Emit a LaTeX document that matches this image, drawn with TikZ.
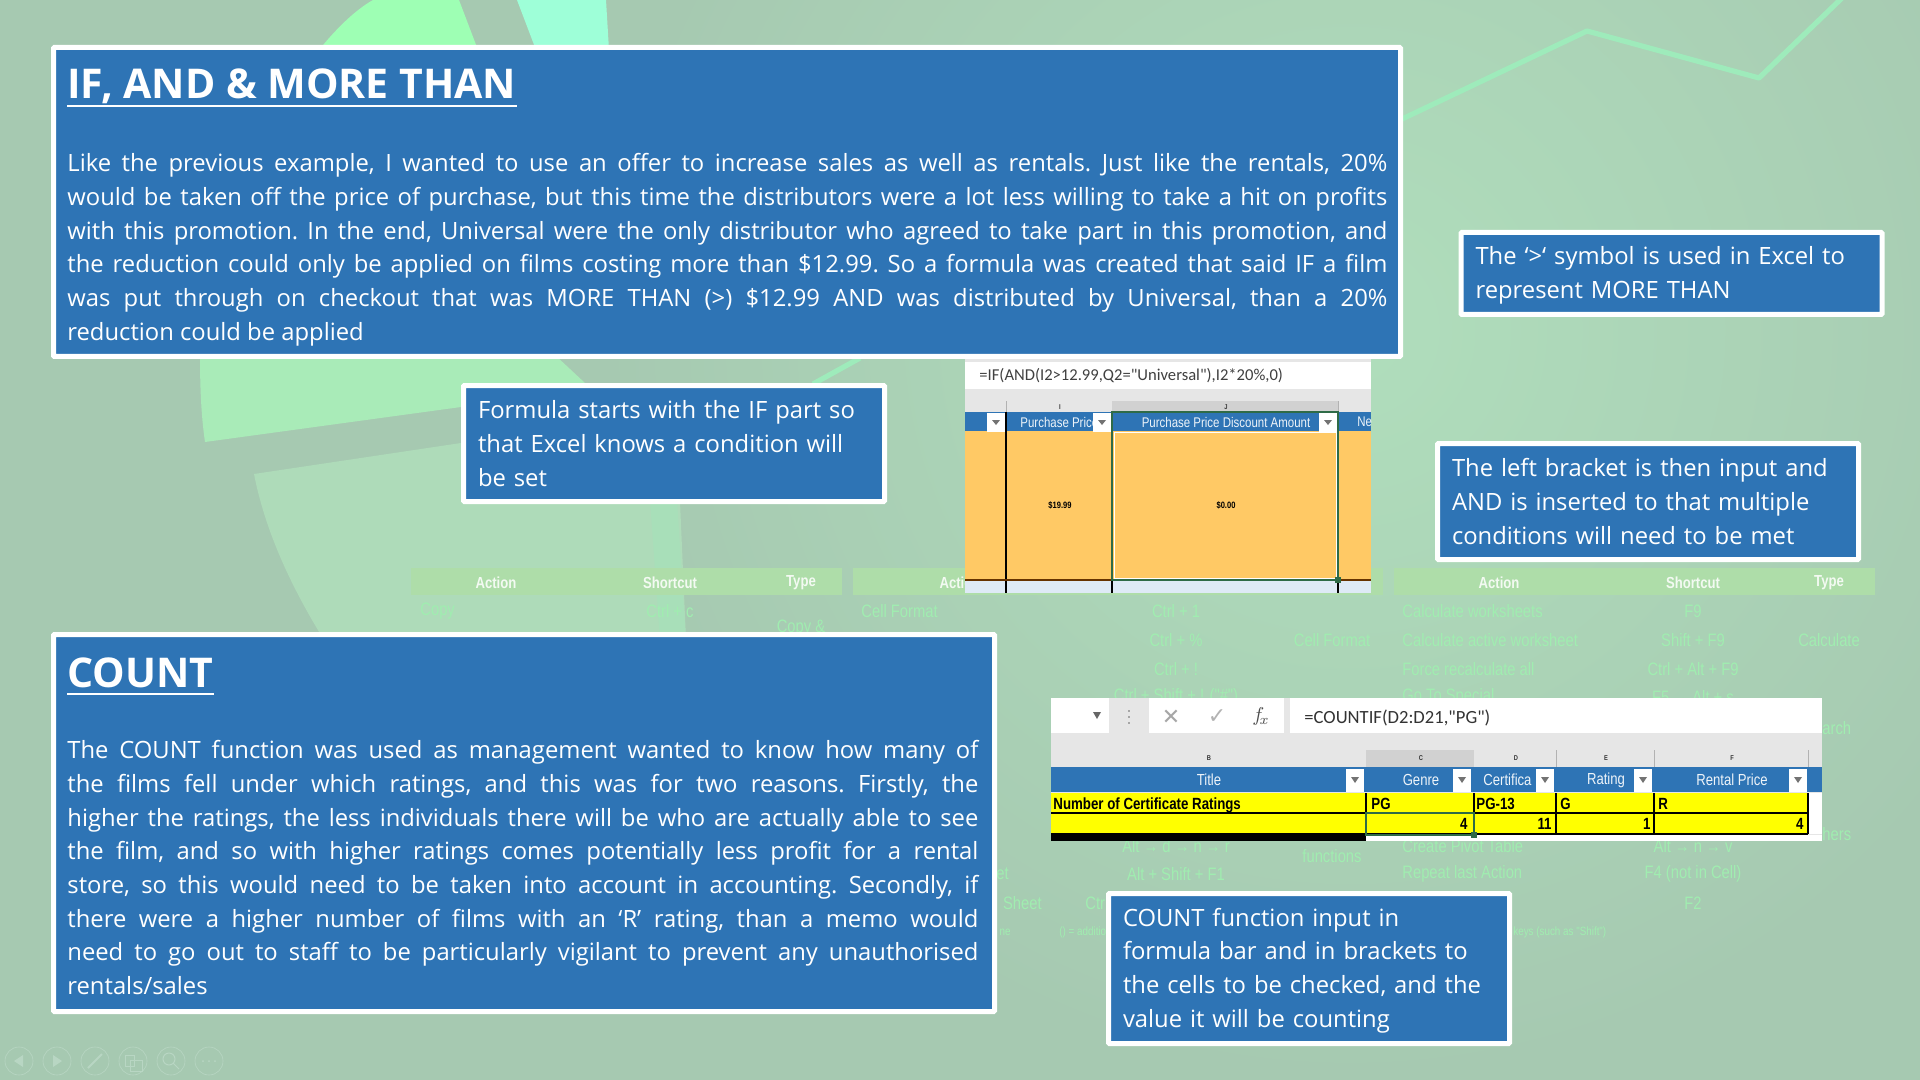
\documentclass[tikz,border=0pt]{standalone}
\usepackage{fontspec}
\setmainfont{Open Sans}
\newfontfamily\cellfont[FakeStretch=0.82]{Liberation Sans}
\newfontfamily\barfont{Carlito}
\newfontfamily\symbolfont{DejaVu Sans}
\definecolor{bgmid}{HTML}{B0DEBC}
\definecolor{bgedge}{HTML}{A6C9B1}
\definecolor{boxblue}{HTML}{2E74B5}
\definecolor{wedgegreen}{HTML}{A9EBB8}
\definecolor{wedgepale}{HTML}{AEDBB9}
\definecolor{stripgreen}{HTML}{A8DFB9}
\definecolor{topgreen}{HTML}{9EFFB4}
\definecolor{topmint}{HTML}{9EFFD8}
\definecolor{linegreen}{HTML}{9EEBBB}
\definecolor{bandgreen}{HTML}{AEDDA9}
\definecolor{faintgreen}{HTML}{A0EDB0}
\definecolor{navgrey}{HTML}{B8D6C3}
\definecolor{cellorange}{HTML}{FFC965}
\definecolor{cellyellow}{HTML}{FFFF00}
\definecolor{cellgreen}{HTML}{2F6B47}
\definecolor{celllight}{HTML}{DEEAF6}
\definecolor{barbg}{HTML}{E6E6E6}
\tikzset{
  bluebox/.style={draw=white,line width=2.5pt,fill=boxblue,rounded corners=0.5pt,inner sep=0pt,anchor=north west},
  notebox/.style={bluebox,text=white,align=left,font=\fontsize{11.9}{16.85}\selectfont},
  headtext/.style={text=white,anchor=base west,inner sep=0pt,font=\fontsize{20.5}{24}\selectfont\bfseries},
  headline/.style={white,line width=0.9pt},
  bodytext/.style={text=white,anchor=north west,inner sep=0pt,align=justify,font=\frenchspacing\fontsize{11.9}{16.85}\selectfont},
  faintleft/.style={text=faintgreen,anchor=west,inner sep=0pt,font=\fontsize{9}{10}\cellfont},
  faintmid/.style={text=faintgreen,inner sep=0pt,font=\fontsize{9}{10}\cellfont},
  bandhead/.style={text=white!85!bandgreen,inner sep=0pt,font=\fontsize{8}{10}\cellfont\bfseries},
  navicon/.style={circle,draw=navgrey,line width=0.3pt,minimum size=14pt,inner sep=0pt},
  headcell/.style={text=white!92!boxblue,inner sep=0pt,font=\fontsize{7}{8}\cellfont},
  countcell/.style={headcell,font=\fontsize{8}{9}\cellfont},
  lettercell/.style={text=black!80,inner sep=0pt,font=\fontsize{3.5}{4}\cellfont\bfseries},
  sheetcell/.style={text=black,inner sep=0pt,font=\fontsize{8.1}{9}\cellfont\bfseries},
  dropbox/.style={fill=white,draw=none,inner sep=0pt,minimum width=9pt,minimum height=9.5pt},
}
\begin{document}
\begin{tikzpicture}[x=0.5pt,y=-0.5pt]
  \useasboundingbox (0,0) rectangle (1920,1080);
  \begin{scope}
    \clip (0,0) rectangle (1920,1080);
    \fill[bgedge] (0,0) rectangle (1920,1080);
    \shade[inner color=bgmid,outer color=bgedge] (1350,330) circle (750);
  \end{scope}

  % shapes behind the boxes
  \fill[topgreen] (373,0) -- (459,0) -- (478,50) -- (319,50) .. controls (335,30) and (355,10) .. cycle;
  \fill[topmint] (517,0) -- (606,0) -- (609,50) -- (536,50) -- cycle;
  \fill[wedgegreen] (200,355) -- (555,355) -- (600,397) -- (461,407) -- (205,442) .. controls (201,415) and (200,385) .. cycle;
  \fill[wedgepale] (254,474) -- (461,443) -- (676,410) -- (686,640) -- (324,640) .. controls (290,585) and (265,530) .. cycle;
  \fill[stripgreen] (650,500) -- (677,500) -- (686,640) -- (660,640) -- cycle;
  \draw[linegreen,line width=2.6pt,line join=round] (1400,120) -- (1587,31) -- (1759,78) -- (1843,-3);
  \draw[linegreen,line width=2.6pt] (860,358) -- (813,384);

  % faint table
  \fill[bandgreen] (411,568) rectangle (842,595);
  \fill[bandgreen] (853,568) rectangle (1383,595);
  \fill[bandgreen] (1394,568) rectangle (1875,595);
  \foreach \x/\name in {496/Action,670/Shortcut,801/Type,960/Action,1499/Action,1693/Shortcut,1829/Type}
    \node[bandhead] at (\x,583) {\name};
  \foreach \y/\name in {611/Calculate worksheets,640/Calculate active worksheet,669/Force recalculate all,697/Go To Special,846/Create Pivot Table,874/Repeat last Action}
    \node[faintleft] at (1402,\y) {\name};
  \foreach \y/\name in {611/F9,640/Shift + F9,669/Ctrl + Alt + F9,697/F5 → Alt + s,846/Alt → n → v,874/F4 (not in Cell),903/F2}
    \node[faintmid] at (1693,\y) {\name};
  \foreach \y/\name in {611/Ctrl + 1,640/Ctrl + \%,669/Ctrl + !,697/Ctrl + Shift + ! ("\#"),846/Alt → d → n → r,874/Alt + Shift + F1}
    \node[faintmid] at (1176,\y) {\name};
  \node[faintleft] at (420,611) {Copy};
  \node[faintmid] at (670,611) {Ctrl + c};
  \node[faintmid] at (801,628) {Copy \&};
  \node[faintleft] at (861,611) {Cell Format};
  \node[faintmid] at (1332,640) {Cell Format};
  \node[faintmid] at (1332,856) {functions};
  \node[faintmid] at (1829,640) {Calculate};
  \node[faintleft] at (1822,728) {arch};
  \node[faintleft] at (1822,834) {hers};
  \node[faintleft] at (1085,903) {Ctrl};
  \node[faintmid,anchor=east] at (1042,903) {Sheet};
  \node[faintmid,anchor=east] at (1009,874) {et};
  \node[faintmid,anchor=east,font=\fontsize{6}{8}\cellfont] at (1011,932) {ne};
  \node[faintleft,font=\fontsize{6}{8}\cellfont] at (1059,932) {() = additional};
  \node[faintleft,font=\fontsize{6}{8}\cellfont] at (1513,932) {keys (such as "Shift")};

  % IF sheet
  \fill[barbg] (965,358) rectangle (1371,593);
  \fill[white] (965,362) rectangle (1371,389);
  \node[anchor=west,inner sep=0pt,text=black!75,font=\fontsize{8.3}{10}\barfont] (ifformula) at (979,376) {=IF(AND(I2>12.99,Q2="Universal"),I2*20\%,0)};
  \fill[black!18] (1112,401) rectangle (1338,412);
  \draw[black!30,line width=0.5pt] (1006,401) -- (1006,412) (1338,401) -- (1338,412);
  \node[lettercell] at (1060,407) {I};
  \node[lettercell] at (1226,407) {J};
  \fill[boxblue] (965,412) rectangle (1371,431);
  \fill[cellorange] (965,431) rectangle (1371,579);
  \fill[celllight] (965,581) rectangle (1371,593);
  \begin{scope}
    \clip (965,412) rectangle (1093,431);
    \node[headcell,anchor=west] at (1020,422) {Purchase Price};
  \end{scope}
  \node[headcell] at (1226,422) {Purchase Price Discount Amount};
  \begin{scope}
    \clip (1340,412) rectangle (1371,431);
    \node[headcell,anchor=west] at (1357,422) {Net};
  \end{scope}
  \foreach \x in {996,1102,1328}
    \node[dropbox] at (\x,422) {};
  \foreach \x in {996,1102,1328}
    \fill[black!55] (\x-4,420) -- (\x+4,420) -- (\x,425) -- cycle;
  \draw[black,line width=0.6pt] (1006,412) -- (1006,593) (1112,581) -- (1112,593) (1338,581) -- (1338,593);
  \draw[black!60!orange,line width=0.8pt] (965,580) -- (1371,580);
  \draw[white,line width=0.5pt] (1114,432) rectangle (1336,578);
  \draw[cellgreen,line width=1pt] (1112,412) rectangle (1338,580);
  \fill[cellgreen] (1335,577) rectangle (1341,583);
  \node[sheetcell,font=\fontsize{4.6}{6}\cellfont\bfseries] (pricecell) at (1060,505) {\$19.99};
  \node[sheetcell,font=\fontsize{4.6}{6}\cellfont\bfseries] (discountcell) at (1226,505) {\$0.00};

  % COUNT sheet
  \fill[barbg] (1051,698) rectangle (1822,841);
  \fill[white] (1051,698) rectangle (1109,733);
  \fill[white] (1149,698) rectangle (1284,733);
  \fill[white] (1290,698) rectangle (1822,733);
  \fill[black!60] (1093,712) -- (1101,712) -- (1097,719) -- cycle;
  \foreach \y in {710,716,722}
    \fill[black!35] (1128,\y) rectangle (1130,\y+2);
  \node[text=black!35,inner sep=0pt,font=\fontsize{11}{12}\symbolfont] (crossmark) at (1171,717) {✕};
  \node[text=black!30,inner sep=0pt,font=\fontsize{11}{12}\symbolfont] (tickmark) at (1217,717) {✓};
  \node[text=black!70,inner sep=0pt,font=\fontsize{10}{12}\selectfont] (fxmark) at (1261,716) {$f_{\!x}$};
  \node[anchor=west,inner sep=0pt,text=black!80,font=\fontsize{9.3}{10}\barfont] (countformula) at (1304,718) {=COUNTIF(D2:D21,"PG")};
  \fill[black!18] (1366,750) rectangle (1474,767);
  \foreach \x in {1556,1654,1808}
    \draw[black!30,line width=0.5pt] (\x,750) -- (\x,767);
  \foreach \x/\name in {1209/B,1421/C,1516/D,1606/E,1732/F}
    \node[lettercell] at (\x,758) {\name};
  \fill[boxblue] (1051,767) rectangle (1822,792);
  \foreach \x/\name in {1209/Title,1421/Genre,1606/Rating,1732/Rental Price}
    \node[countcell] at (\x,780) {\name};
  \node[countcell,anchor=west] at (1483,780) {Certifica};
  \foreach \x in {1355,1462,1545,1643,1798}
    \node[dropbox,minimum height=11.5pt] at (\x,780) {};
  \foreach \x in {1355,1462,1545,1643,1798}
    \fill[black!55] (\x-4,777) -- (\x+4,777) -- (\x,783) -- cycle;
  \fill[cellyellow] (1051,793) rectangle (1808,834);
  \fill[white] (1808,793) rectangle (1822,834);
  \fill[white] (1366,835) rectangle (1822,841);
  \fill[black] (1051,835) rectangle (1366,841);
  \draw[black,line width=0.7pt] (1051,813) -- (1808,813) (1051,834) -- (1808,834);
  \foreach \x in {1366,1474,1556,1654,1808}
    \draw[black,line width=0.7pt] (\x,793) -- (\x,834);
  \node[sheetcell,anchor=west] (ratingtitle) at (1053,805) {Number of Certificate Ratings};
  \foreach \x/\name in {1371/PG,1476/PG-13,1560/G,1658/R}
    \node[sheetcell,anchor=west] at (\x,804) {\name};
  \foreach \x/\name in {1468/4,1552/11,1651/1,1804/4}
    \node[sheetcell,anchor=east] at (\x,824) {\name};
  \draw[cellgreen,line width=1pt] (1366,813) rectangle (1474,835);
  \fill[cellgreen] (1471,832) rectangle (1477,838);

  % text boxes
  \node[bluebox,minimum width=673.5pt,minimum height=154.5pt] (ifbox) at (51,45) {};
  \node[headtext] (iftitle) at (67,99) {IF, AND \& MORE THAN};
  \draw[headline] ([yshift=-3.6pt]iftitle.base west) -- ([yshift=-3.6pt]iftitle.base east);
  \node[bodytext,text width=660pt] (ifbody) at (67,153) {Like the previous example, I wanted to use an offer to increase sales as well as rentals. Just like the rentals, 20\%\linebreak would be taken off the price of purchase, but this time the distributors were a lot less willing to take a hit on profits\linebreak with this promotion. In the end, Universal were the only distributor who agreed to take part in this promotion, and\linebreak the reduction could only be applied on films costing more than \$12.99. So a formula was created that said IF a film\linebreak was put through on checkout that was MORE THAN (>) \$12.99 AND was distributed by Universal, than a 20\%\linebreak reduction could be applied};

  \node[bluebox,minimum width=470.5pt,minimum height=188.5pt] (countbox) at (51,632) {};
  \node[headtext] (counttitle) at (67,687) {COUNT};
  \draw[headline] ([yshift=-3.6pt]counttitle.base west) -- ([yshift=-3.6pt]counttitle.base east);
  \node[bodytext,text width=455.5pt] (countbody) at (67,740) {The COUNT function was used as management wanted to know how many of\linebreak the films fell under which ratings, and this was for two reasons. Firstly, the\linebreak higher the ratings, the less individuals there will be who are actually able to see\linebreak the film, and so with higher ratings comes potentially less profit for a rental\linebreak store, so this would need to be taken into account in accounting. Secondly, if\linebreak there were a higher number of films with an ‘R’ rating, than a memo would\linebreak need to go out to staff to be particularly vigilant to prevent any unauthorised\linebreak rentals/sales};

  \node[notebox,minimum width=210.5pt,minimum height=58pt,text width=196pt] (formulanote) at (461,383) {Formula starts with the IF part so\\that Excel knows a condition will\\be set};
  \node[notebox,minimum width=210.5pt,minimum height=41pt,text width=196pt] (symbolnote) at (1458.5,230) {\rule{0pt}{11pt}The ‘>‘ symbol is used in Excel to\\represent MORE THAN};
  \node[notebox,minimum width=210.5pt,minimum height=58pt,text width=196pt] (bracketnote) at (1435,441) {The left bracket is then input and\\AND is inserted to that multiple\\conditions will need to be met};
  \node[notebox,minimum width=200.5pt,minimum height=75pt,text width=186pt] (countnote) at (1106,891) {\rule{0pt}{11pt}COUNT function input in\\formula bar and in brackets to\\the cells to be checked, and the\\value it will be counting};

  % slide controls
  \foreach \x/\n in {19/1,57/2,95/3,133/4,171/5,209/6}
    \node[navicon] (nav\n) at (\x,1061) {};
  \fill[navgrey] (14,1061) -- (23,1055) -- (23,1067) -- cycle;
  \fill[navgrey] (62,1061) -- (53,1055) -- (53,1067) -- cycle;
  \draw[navgrey,line width=1pt] (88,1068) -- (102,1054);
  \draw[navgrey,line width=0.5pt] (125,1055) rectangle (134,1066) (130,1060) rectangle (142,1071);
  \draw[navgrey,line width=0.5pt] (169,1059) circle (6) (173,1063) -- (179,1069);
  \foreach \x in {203,209,215}
    \fill[navgrey] (\x,1061) circle (1);
\end{tikzpicture}
\end{document}
